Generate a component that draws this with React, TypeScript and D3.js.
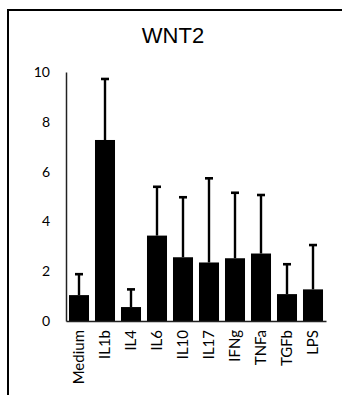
import React, { useEffect, useRef } from 'react';
import * as d3 from 'd3';

const categories = ['Medium', 'IL1b', 'IL4', 'IL6', 'IL10', 'IL17', 'IFNg', 'TNFa', 'TGFb', 'LPS'];
const means = [1.04, 7.27, 0.56, 3.43, 2.56, 2.35, 2.52, 2.71, 1.08, 1.27];
const errors = [0.84, 2.45, 0.71, 1.96, 2.41, 3.38, 2.63, 2.35, 1.2, 1.78];
const yTicks = [0, 2, 4, 6, 8, 10];
const title = 'WNT2';

const App = () => {
  const svgRef = useRef<SVGSVGElement>(null);

  useEffect(() => {
    const svg = d3.select(svgRef.current);
    svg.selectAll('*').remove();

    const width = 342;
    const height = 395;
    const titleFont = '"Liberation Sans", Arial, sans-serif';
    const labelFont = 'Lato, "Open Sans", sans-serif';

    svg.append('rect')
      .attr('width', width)
      .attr('height', height)
      .attr('fill', '#fff');

    // outer frame (runs off the right and bottom edges)
    svg.append('rect')
      .attr('x', 8)
      .attr('y', 10)
      .attr('width', 400)
      .attr('height', 420)
      .attr('fill', 'none')
      .attr('stroke', '#000')
      .attr('stroke-width', 2);

    svg.append('text')
      .attr('x', 173)
      .attr('y', 43)
      .attr('text-anchor', 'middle')
      .style('font-family', titleFont)
      .style('font-size', '22px')
      .text(title);

    const x = d3.scaleBand()
      .domain(categories)
      .range([66, 326])
      .paddingInner(0.23)
      .paddingOuter(0.115);

    const y = d3.scaleLinear()
      .domain([0, 10])
      .range([321, 72]);

    const data = categories.map((c, i) => ({ c, m: means[i], e: errors[i] }));

    // bars
    svg.append('g')
      .selectAll('rect')
      .data(data)
      .enter()
      .append('rect')
      .attr('x', d => x(d.c)!)
      .attr('y', d => y(d.m))
      .attr('width', x.bandwidth())
      .attr('height', d => y(0) - y(d.m))
      .attr('fill', '#000');

    // error bars (upper only)
    const err = svg.append('g')
      .attr('stroke', '#000')
      .attr('stroke-width', 2.4);

    err.selectAll('line.stem')
      .data(data)
      .enter()
      .append('line')
      .attr('class', 'stem')
      .attr('x1', d => x(d.c)! + x.bandwidth() / 2)
      .attr('x2', d => x(d.c)! + x.bandwidth() / 2)
      .attr('y1', d => y(d.m))
      .attr('y2', d => y(d.m + d.e));

    err.selectAll('line.cap')
      .data(data)
      .enter()
      .append('line')
      .attr('class', 'cap')
      .attr('stroke-width', 2.6)
      .attr('x1', d => x(d.c)! + x.bandwidth() / 2 - 4)
      .attr('x2', d => x(d.c)! + x.bandwidth() / 2 + 4)
      .attr('y1', d => y(d.m + d.e))
      .attr('y2', d => y(d.m + d.e));

    // y axis
    const yAxis = svg.append('g')
      .attr('transform', 'translate(66,0)')
      .call(d3.axisLeft(y).tickValues(yTicks).tickSize(0).tickPadding(16));
    yAxis.select('.domain').attr('stroke', '#222').attr('stroke-width', 1.5);
    yAxis.selectAll('text')
      .style('font-family', labelFont)
      .style('font-size', '14px')
      .attr('fill', '#000');

    // x axis
    const xAxis = svg.append('g')
      .attr('transform', 'translate(0,321)')
      .call(d3.axisBottom(x).tickSize(0).tickSizeOuter(0));
    xAxis.select('.domain').attr('stroke', '#222').attr('stroke-width', 1.5);
    xAxis.selectAll('text')
      .style('font-family', labelFont)
      .style('font-size', '15px')
      .attr('fill', '#000')
      .attr('text-anchor', 'end')
      .attr('transform', 'rotate(-90)')
      .attr('x', -9)
      .attr('y', 0)
      .attr('dy', '0.35em');
  }, []);

  return (
    <svg
      ref={svgRef}
      width={342}
      height={395}
      style={{ position: 'absolute', left: 0, top: 0, display: 'block' }}
    />
  );
};

export default App;
